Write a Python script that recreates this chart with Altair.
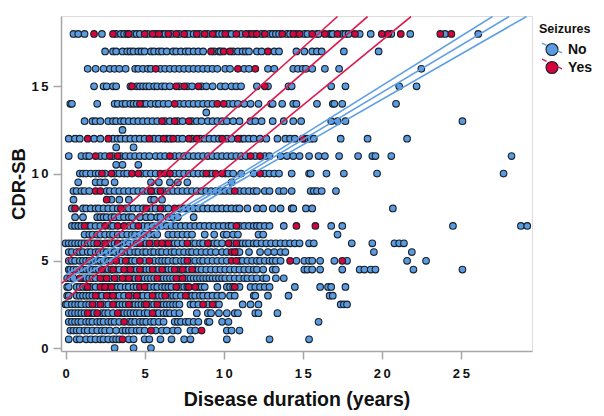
import altair as alt
import pandas as pd

n180 = [0.5,0.8,1.2,2.3,3.2,3.5,3.7,3.9,4.3,4.5,4.7,5.2,5.7,6.1,6.3,6.7,7.2,7.6,7.8,8.1,8.5,9.0,9.5,9.7,9.9,10.3,10.5,11.1,11.6,12.0,12.4,12.9,13.1,13.3,13.5,14.0,14.2,14.6,15.1,15.3,15.9,16.0,16.7,16.8,16.9,17.5,17.7,17.9,18.6,19.3,20.6,21.8,24.0,26.1]
r180 = [1.8,3.0,4.0,5.0,5.5,5.9,6.5,7.0,7.5,8.3,8.8,9.3,10.1,10.8,11.4,11.8,12.1,12.6,13.7,14.4,14.8,15.6,16.4,17.2,18.3,20.0,20.4,21.2,23.7,24.4]
n170 = [2.5,3.0,3.2,3.6,3.9,4.1,4.3,4.6,4.8,5.0,5.4,5.6,5.9,6.1,6.4,6.8,7.0,7.3,7.6,7.8,8.1,8.4,8.7,9.4,9.7,9.8,10.6,10.9,11.2,11.4,11.6,12.1,12.4,13.2,13.5,14.6,15.1,15.6,15.9,16.2,17.6,19.8]
r170 = [9.2,10.0,10.4,12.8]
n160 = [1.4,1.9,2.4,2.8,3.1,3.4,3.8,4.4,4.6,4.9,5.2,5.4,6.0,6.3,6.6,6.9,7.2,7.5,7.8,8.1,8.4,8.7,9.0,9.3,9.6,10.1,10.4,11.3,11.6,12.8,13.2,14.4,14.7,15.0,15.2,15.6,16.4,17.3,22.5]
r160 = [5.7,10.9,12.0]
n150 = [1.8,2.4,2.6,3.0,3.2,4.1,4.5,4.7,4.9,5.1,5.3,5.6,5.8,6.1,6.3,6.6,7.2,7.7,8.0,8.6,8.9,9.3,9.8,10.1,10.5,10.8,11.1,12.1,12.8,14.1,14.3,16.8,17.7,21.1,22.2]
r150 = [4.2,7.0,7.5,8.4,12.6]
n140 = [0.3,0.4,2.0,3.1,3.3,3.6,3.8,4.1,4.3,4.5,4.9,5.1,5.4,5.7,5.9,6.2,6.5,7.2,7.5,7.8,8.1,8.4,8.7,9.0,9.3,10.3,10.6,10.9,11.3,11.7,12.2,13.0,13.1,13.7,14.4,14.6,15.9,16.9,17.0,17.5,20.9]
r140 = [4.7,6.9,9.6,10.0]
n135 = [8.9]
n130 = [1.2,1.7,1.9,2.2,2.7,3.0,3.2,3.5,3.7,4.0,4.3,4.6,4.9,5.2,5.5,5.8,6.3,6.6,7.1,7.4,8.0,8.3,8.6,9.0,9.3,9.6,9.9,10.2,10.6,11.0,11.7,12.0,12.4,13.1,13.8,14.4,14.9,16.8,17.2,17.7,25.1]
r130 = [6.1,6.9,7.8]
n125 = [3.6]
n120 = [0.2,0.6,0.9,1.8,2.2,3.0,3.3,3.5,3.8,4.1,4.4,4.7,5.0,5.6,5.9,6.4,6.6,7.1,7.4,8.0,8.5,8.8,9.1,9.4,9.7,10.2,10.5,11.1,11.3,11.6,11.9,12.3,12.7,13.4,13.9,14.2,14.5,15.1,15.3,15.5,15.7,17.4,19.1,21.6]
r120 = [1.4,2.7,5.3,6.2,6.8,7.8,8.3,9.9,10.9,15.0]
n115 = [3.2,4.3]
n110 = [0.2,1.0,1.3,1.5,2.2,2.5,3.0,3.5,3.8,4.1,4.4,4.7,5.0,5.3,5.7,6.0,6.3,6.9,7.2,7.5,7.8,8.1,8.4,8.7,9.0,9.3,9.6,9.9,10.2,10.5,10.8,11.1,11.4,12.0,12.6,12.9,13.6,14.0,14.4,14.8,15.4,16.0,16.4,17.3,18.5,19.4,19.6,20.6,28.2]
r110 = [1.9,2.8,3.3,6.6,11.7,12.3]
n105 = [3.2,3.6,4.6]
n100 = [0.9,1.1,1.3,1.6,1.9,2.1,2.5,3.1,3.4,3.7,3.9,4.8,5.1,5.4,5.7,6.6,6.9,7.2,7.5,7.8,8.1,8.4,8.7,9.1,9.3,10.1,10.3,10.6,11.1,11.9,12.6,12.9,13.2,13.5,14.3,15.4,15.5,16.5,17.6,19.7,27.7]
r100 = [2.3,2.9,4.2,4.6,6.0,6.3,6.6,8.9,9.5,9.9,12.3]
n095 = [0.8,1.9,2.2,2.5,3.1,5.4,5.9,6.6,7.1,7.7,10.5]
n090 = [0.5,0.7,1.0,1.2,1.5,2.6,2.8,3.1,3.4,3.7,4.0,4.3,4.6,4.9,5.2,5.5,5.8,6.2,6.5,6.8,7.1,7.4,7.7,8.0,8.3,8.6,8.9,9.2,9.5,9.8,10.1,10.4,11.0,11.3,11.6,11.9,12.1,12.6,12.9,13.5,13.8,14.3,15.5,15.7,15.9,16.2,17.1]
r090 = [1.9,2.2,5.4,6.0,10.7]
n085 = [0.5,2.9,3.4,4.0,5.4,5.6,6.1]
r085 = [2.6]
n080 = [0.4,1.1,1.3,1.6,1.9,2.1,2.4,2.7,3.0,3.3,3.8,4.0,4.3,4.6,4.9,5.4,5.7,6.2,6.5,7.2,7.5,7.8,8.1,8.4,8.7,9.0,9.3,9.6,9.9,10.2,10.5,10.8,11.0,11.5,12.1,12.5,13.1,13.6,14.3,14.4,15.2,15.6,20.7]
r080 = [0.6,3.5,5.1,6.0,6.9]
n075 = [0.6,1.1,2.0,2.2,2.4,2.6,2.9,3.1,3.4,3.7,4.0,4.2,4.7,5.1,5.4,5.8,6.0,6.5,6.8,7.1,8.1]
n070 = [0.4,0.6,0.8,1.0,1.4,1.6,1.9,2.2,2.8,3.0,4.0,4.3,4.9,5.2,5.5,5.8,6.1,6.4,6.7,7.0,7.3,7.6,7.9,8.2,8.5,8.8,9.1,9.4,9.7,10.0,10.3,10.5,11.0,11.3,11.6,11.9,12.1,12.3,12.6,12.9,13.8,16.8,17.5,24.5,28.8,29.2]
r070 = [1.2,2.5,3.3,3.7,4.6,10.8,14.6,15.8]
n065 = [1.2,1.5,1.7,2.0,2.2,2.5,2.8,3.0,3.3,3.6,3.9,4.2,4.4,4.7,5.0,5.3,5.6,5.8,6.5,6.8,7.1,7.4,7.7,8.0,8.8,9.4,10.0,10.2,10.6,10.9,12.2,12.5,17.2]
n060 = [0.0,0.2,0.4,0.6,0.8,1.0,1.2,1.4,1.6,1.8,2.2,2.7,2.9,3.1,3.6,3.8,4.0,4.3,4.5,4.9,5.1,5.5,6.3,6.7,6.9,7.1,7.4,8.0,8.2,8.5,8.7,9.1,9.4,9.6,9.9,10.4,10.6,11.0,11.2,11.4,11.6,11.9,12.1,12.4,12.7,13.0,13.3,13.6,13.9,14.2,14.5,14.8,15.4,15.7,18.1,19.4,20.8,21.1,21.4]
r060 = [2.0,2.5,3.3,4.7,5.3,5.8,6.1,6.5,7.7,9.0,10.3,10.8]
n055 = [0.2,0.4,0.7,0.9,1.1,1.4,1.6,1.9,2.1,2.4,2.6,2.9,3.1,3.4,3.6,3.9,4.1,4.4,4.6,4.9,5.1,5.4,5.6,5.9,6.1,6.4,6.7,6.9,7.2,7.5,7.8,8.0,8.3,8.6,8.9,9.2,9.5,9.9,10.2,10.8,11.0,11.6,12.3,12.8,13.2,13.6,13.9,19.5,21.9]
r055 = [10.5,10.7]
n050 = [0.2,0.4,0.6,0.9,1.1,1.3,1.5,1.8,2.0,2.2,2.4,2.7,2.9,3.5,4.0,4.2,4.4,5.0,5.6,5.9,6.1,6.3,6.5,6.8,7.0,7.3,7.5,7.9,8.2,8.5,8.7,9.0,9.3,9.6,9.9,10.2,11.0,11.2,11.5,11.8,12.1,12.3,12.6,12.9,13.1,13.3,13.6,14.6,15.1,15.4,15.6,16.1,17.0,17.8,21.6,22.8]
r050 = [3.2,3.8,4.7,5.3,7.7,10.5,10.8,14.2,17.5]
n045 = [0.2,0.3,0.5,0.7,0.9,1.1,1.3,1.5,1.7,1.9,2.1,2.5,2.7,2.9,3.2,3.4,3.9,4.3,4.5,4.9,5.1,5.3,5.7,5.9,6.3,6.5,6.7,7.1,7.3,7.6,7.8,8.2,8.4,8.6,8.9,9.2,9.5,9.8,10.1,10.4,10.7,11.0,11.3,11.6,11.9,12.1,12.5,13.1,13.3,15.1,15.3,15.6,16.1,17.5,18.6,18.9,19.3,19.6,22.0,25.1]
r045 = [2.3,3.0,3.7,4.1,4.7,5.5,6.1,6.9,7.4,8.0]
n040 = [0.1,0.3,0.5,1.1,1.3,1.5,1.7,1.9,2.4,2.8,3.3,3.8,4.2,4.4,4.8,5.0,5.2,5.4,5.6,6.0,6.2,6.4,6.6,6.8,7.2,7.5,7.7,7.9,8.1,8.3,8.5,8.7,8.9,9.1,9.3,9.5,9.7,9.9,10.1,10.4,10.7,11.0,11.3,11.5,11.8,12.1,12.5,12.7,13.3,13.8]
r040 = [0.9,2.2,2.6,3.1,3.6,4.0,4.6,5.8,7.0,7.4]
n035 = [0.1,0.2,0.7,0.9,1.1,1.3,1.6,1.9,2.4,2.7,3.1,3.3,3.5,3.8,4.0,4.3,4.5,5.1,5.3,5.6,5.8,6.1,6.3,6.5,6.7,7.2,7.5,7.7,8.4,8.6,8.8,9.6,10.2,10.4,10.6,11.0,11.7,12.0,12.3,12.6,12.9,14.5,16.1,16.6,16.8,17.7]
r035 = [1.4,2.2,2.5,2.9,4.7,5.0,7.0,7.8,8.2,10.7]
n030 = [0.1,0.2,0.7,0.9,1.1,1.3,1.5,1.7,2.1,2.3,2.8,3.2,3.4,3.7,4.2,4.7,4.9,5.2,5.7,5.9,6.1,6.6,6.8,7.0,7.3,7.8,8.0,8.2,8.5,8.7,9.0,9.3,9.6,9.9,10.4,10.7,11.9,12.0,12.8,14.1,16.7,16.9]
r030 = [1.9,2.6,3.0,4.0,4.5,5.5,6.3,7.6]
n025 = [0.0,0.1,0.4,0.6,0.8,1.0,1.3,1.5,1.9,2.4,2.7,3.2,3.4,3.6,3.8,4.2,4.4,4.6,4.8,5.0,5.3,5.6,6.0,6.2,6.4,6.6,6.8,7.0,7.2,7.9,8.1,8.4,9.0,9.5,9.7,11.2,11.7,12.2,17.4,17.6,17.8]
r025 = [1.7,2.2,3.0,4.0,5.1,5.8,8.7,9.3]
n020 = [0.2,0.4,0.6,0.8,1.0,1.2,1.6,1.8,2.3,2.5,2.7,3.0,3.5,3.7,3.9,4.1,4.3,4.5,4.7,5.0,5.2,5.7,5.9,6.2,6.4,6.6,6.9,7.2,8.3,9.0,9.2,9.7,10.2,10.7,10.9,12.0,12.2,13.4]
r020 = [1.4,2.0,3.3,5.5]
n015 = [0.2,0.4,0.6,0.8,1.0,1.3,1.5,1.7,2.0,2.2,2.4,2.7,2.9,3.1,3.4,4.0,4.2,4.4,4.7,4.9,5.1,5.4,5.6,5.9,6.2,6.9,7.1,7.3,7.6,7.8,8.1,8.4,9.0,9.1,9.9,10.3,16.0]
r015 = [3.7]
n010 = [0.3,0.5,0.7,0.9,1.2,1.4,1.7,2.0,2.3,2.5,2.8,3.2,3.6,3.8,4.0,4.2,4.5,4.7,5.0,5.7,6.1,6.4,6.8,7.1,7.9,8.2,10.2,10.5,11.0]
r010 = [5.4,8.6]
n005 = [0.2,0.7,0.9,1.3,1.6,1.9,2.2,2.4,2.7,3.0,3.2,3.4,4.0,4.3,5.0,5.3,6.0,6.7,7.5,7.9,10.2,12.9,15.4]
r005 = [3.6]
n000 = [3.1,4.3,5.4]

rows = [(18,n180,r180),(17,n170,r170),(16,n160,r160),(15,n150,r150),(14,n140,r140),(13.5,n135,[]),
        (13,n130,r130),(12.5,n125,[]),(12,n120,r120),(11.5,n115,[]),(11,n110,r110),(10.5,n105,[]),
        (10,n100,r100),(9.5,n095,[]),(9,n090,r090),(8.5,n085,r085),(8,n080,r080),(7.5,n075,[]),
        (7,n070,r070),(6.5,n065,[]),(6,n060,r060),(5.5,n055,r055),(5,n050,r050),(4.5,n045,r045),
        (4,n040,r040),(3.5,n035,r035),(3,n030,r030),(2.5,n025,r025),(2,n020,r020),(1.5,n015,r015),
        (1,n010,r010),(0.5,n005,r005),(0,n000,[])]
recs = []
for y, ns, rs in rows:
    recs += [dict(x=v, y=y, s="No") for v in ns]
    recs += [dict(x=v, y=y, s="Yes") for v in rs]
points = pd.DataFrame(recs)

line_x_no = [[0.0, 10.5, 27.0], [0.0, 10.5, 28.05], [0.0, 10.5, 29.15]]
line_y_no = [[4.2, 9.65, 19.0], [3.9, 9.5, 19.0], [3.5, 9.3, 19.0]]
line_x_yes = [[0.05, 17.2], [-0.25, 19.1], [0.05, 21.85]]
line_y_yes = [[5.0, 19.0], [3.7, 19.0], [2.8, 19.0]]
lrecs = []
for i, (xs_, ys_) in enumerate(zip(line_x_no, line_y_no)):
    lrecs += [dict(x=a, y=b, s="No", g=f"n{i}") for a, b in zip(xs_, ys_)]
for i, (xs_, ys_) in enumerate(zip(line_x_yes, line_y_yes)):
    lrecs += [dict(x=a, y=b, s="Yes", g=f"y{i}") for a, b in zip(xs_, ys_)]
lines = pd.DataFrame(lrecs)

BLUE = "#5b9be0"
RED = "#d6043c"
LBLUE = "#5f9fe6"
LRED = "#dc1a50"
GRAY = "#a6a6a6"
FONT = "Liberation Sans"

xs = alt.Scale(domain=[-0.29, 29.5], nice=False, zero=False)
ys = alt.Scale(domain=[-0.17, 19.03], nice=False, zero=False)
spaced = "join(split(datum.label,''),'\u2009')"

xaxis = alt.Axis(title="Disease duration (years)", values=[0, 5, 10, 15, 20, 25], grid=False,
                 labelExpr=spaced,
                 domainColor=GRAY, domainWidth=1.5, tickColor=GRAY, tickWidth=1.5, tickSize=8,
                 labelFont=FONT, labelFontSize=13, labelFontWeight="bold", labelColor="#111111",
                 labelPadding=8, titleFont=FONT, titleFontSize=19.5, titleFontWeight="bold",
                 titleColor="#111111", titlePadding=10)
yaxis = alt.Axis(title="CDR-SB", values=[0, 5, 10, 15], grid=False,
                 labelExpr=spaced,
                 domainColor=GRAY, domainWidth=1.5, tickColor=GRAY, tickWidth=1.5, tickSize=8,
                 labelFont=FONT, labelFontSize=13, labelFontWeight="bold", labelColor="#111111",
                 labelPadding=5, titleFont=FONT, titleFontSize=18.5, titleFontWeight="bold",
                 titleColor="#111111", titlePadding=2)

pts = alt.Chart(points).mark_point(filled=True, shape="circle", size=44, stroke="#17212c",
                                   strokeWidth=1.1, opacity=1, clip=True).encode(
    x=alt.X("x:Q", scale=xs, axis=xaxis),
    y=alt.Y("y:Q", scale=ys, axis=yaxis),
    fill=alt.Fill("s:N", scale=alt.Scale(domain=["No", "Yes"], range=[BLUE, RED]),
                  legend=alt.Legend(title="Seizures", orient="none", legendX=478, legendY=7, symbolSize=144,
                                    rowPadding=0, titleFont=FONT, titleFontSize=12.5, titleFontWeight="bold",
                                    titleColor="#111111", titlePadding=7, labelFont=FONT, labelFontSize=14,
                                    labelFontWeight="bold", labelColor="#111111", labelOffset=9,
                                    symbolOffset=6, symbolType="circle", symbolStrokeColor="#17212c",
                                    symbolStrokeWidth=1.1)),
    order=alt.Order("s:N"),
)
lns = alt.Chart(lines).mark_line(strokeWidth=1.6, clip=True).encode(
    x=alt.X("x:Q", scale=xs, axis=xaxis),
    y=alt.Y("y:Q", scale=ys, axis=yaxis),
    detail="g:N",
    stroke=alt.Stroke("s:N", scale=alt.Scale(domain=["No", "Yes"], range=[LBLUE, LRED]),
                      legend=alt.Legend(title=None, orient="none", legendX=478, legendY=25, symbolSize=144,
                                        rowPadding=0, labelFontSize=14, labelExpr="''", labelOffset=9,
                                        symbolOffset=6,
                                        symbolType="M-1.67,-0.83L-0.9,-0.45M0.9,0.45L1.67,0.83",
                                        symbolStrokeWidth=1.4)),
)

chart = alt.layer(pts, lns).resolve_scale(fill="independent", stroke="independent").properties(
    width=471, height=335, autosize=alt.AutoSizeParams(type="none"),
    padding={"left": 53, "top": 8, "right": 64, "bottom": 60},
).configure_view(stroke=None).configure(background="white")

chart.save("out.html", embed_options={"renderer": "svg", "actions": False})
